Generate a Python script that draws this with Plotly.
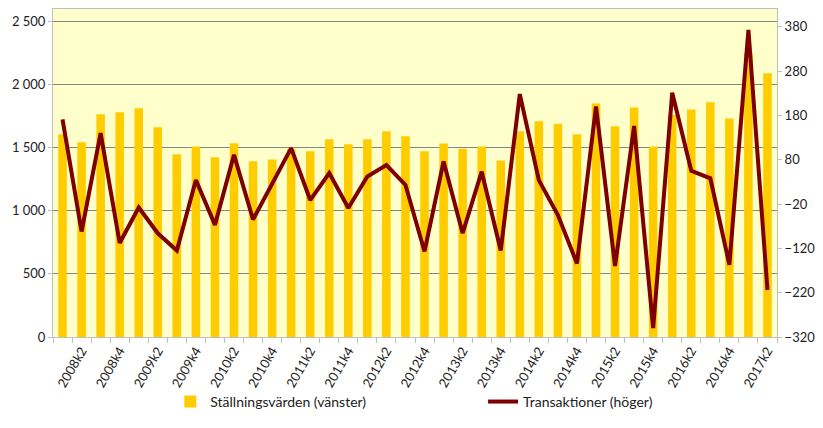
import plotly.graph_objects as go

# quarters 2008k1 .. 2017k2
quarters = [f"{y}k{q}" for y in range(2008, 2018) for q in range(1, 5)][:38]

# Ställningsvärden (vänster axel)
stallning = [1607, 1543, 1765, 1781, 1813, 1662, 1448, 1511, 1424, 1535,
             1393, 1408, 1490, 1472, 1567, 1527, 1567, 1630, 1591, 1472,
             1533, 1493, 1511, 1400, 1630, 1710, 1691, 1607, 1850, 1670,
             1820, 1511, 1760, 1804, 1860, 1733, 2250, 2090]

# Transaktioner (höger axel)
transaktioner = [171, -82, 140, -108, -28, -86, -125, 34, -67, 91,
                 -55, 25, 106, -11, 50, -29, 42, 68, 23, -127,
                 76, -86, 53, -125, 228, 34, -45, -154, 200, -160,
                 156, -300, 231, 55, 38, -157, 373, -214]

left_ticks = [0, 500, 1000, 1500, 2000, 2500]
left_labels = ["0", "500", "1 000", "1 500", "2 000", "2 500"]
right_ticks = [-320, -220, -120, -20, 80, 180, 280, 380]

# label every k2 and k4 quarter
tick_text = [q if q.endswith(("k2", "k4")) else "" for q in quarters]

fig = go.Figure()
fig.add_trace(go.Bar(x=quarters, y=stallning, name="Ställningsvärden (vänster)",
                     marker=dict(color="#FFCC00", line=dict(width=0)), legend="legend"))
fig.add_trace(go.Scatter(x=quarters, y=transaktioner, name="Transaktioner (höger)",
                         mode="lines", yaxis="y2", legend="legend2",
                         line=dict(color="#7F0000", width=4)))

font = dict(family="Lato, Open Sans, sans-serif", size=13, color="#222222")
legend_font = dict(family="Lato, Open Sans, sans-serif", size=14, color="#222222")

fig.update_layout(
    width=823, height=428,
    margin=dict(l=53, r=46, t=9, b=91),
    paper_bgcolor="white",
    plot_bgcolor="#FFFFCC",
    font=font,
    bargap=0.55,
    showlegend=True,
    legend=dict(x=0.162, xanchor="left", y=-0.198, yanchor="middle", font=legend_font,
                bgcolor="rgba(0,0,0,0)"),
    legend2=dict(x=0.594, xanchor="left", y=-0.198, yanchor="middle", font=legend_font,
                 bgcolor="rgba(0,0,0,0)"),
    xaxis=dict(type="category", tickvals=quarters, ticktext=tick_text, automargin=False,
               tickangle=-60, tickson="boundaries", ticks="outside", ticklen=5,
               tickcolor="#BFBFBF", showline=True, linecolor="#BFBFBF", mirror=True,
               showgrid=False),
    yaxis=dict(range=[0, 2600], tickvals=left_ticks, ticktext=left_labels, automargin=False,
               showgrid=True, gridcolor="#868686", gridwidth=1, zeroline=False,
               showline=True, linecolor="#BFBFBF", ticks="outside", ticklen=4,
               tickcolor="#BFBFBF"),
    yaxis2=dict(range=[-320, 420], tickvals=right_ticks, overlaying="y", side="right",
                automargin=False,
                showgrid=False, zeroline=False, showline=True, linecolor="#BFBFBF",
                ticks="outside", ticklen=4, tickcolor="#BFBFBF"),
)

# drop the browser's default page margin so the figure fills the window
fig.write_html("out.html", config={"displayModeBar": False},
               post_script="document.body.style.margin='0';")
